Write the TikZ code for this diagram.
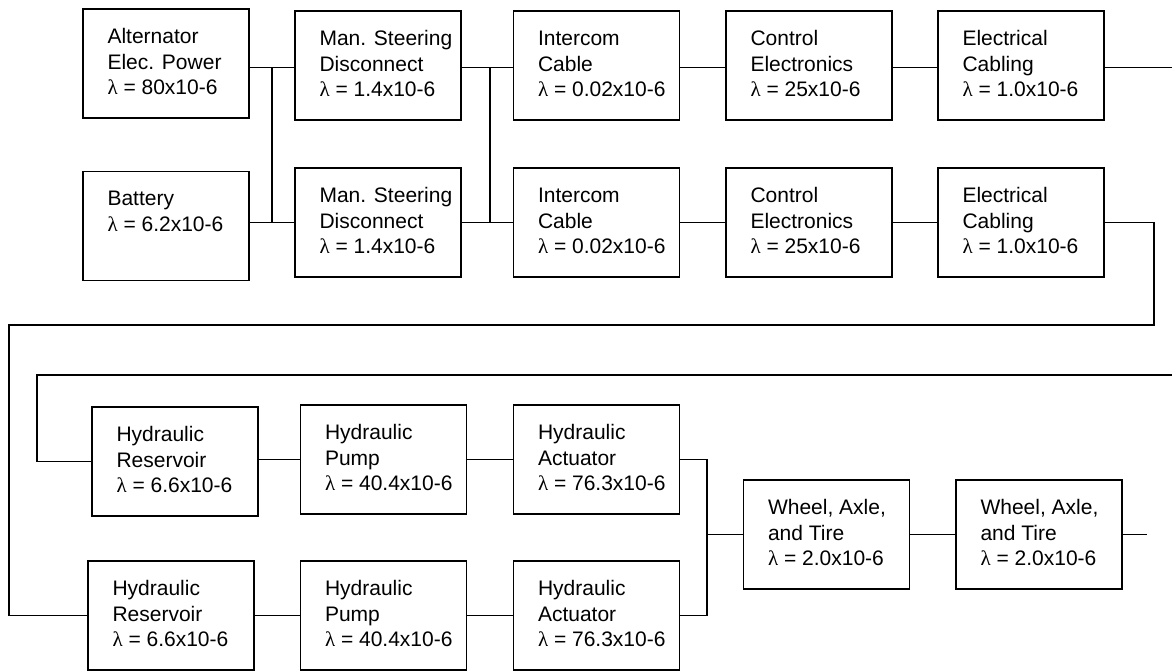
\documentclass[tikz,border=0pt]{standalone}
\usepackage{fontspec}
\setmainfont{Liberation Sans}
\newfontfamily\lamfont{Liberation Serif}
\newcommand\lam{{\lamfont λ}}
\begin{document}
\begin{tikzpicture}[x=1pt,y=-1pt,
  blk/.style={draw, line width=1.35pt, minimum width=166pt, minimum height=109pt, inner sep=0pt},
  lbl/.style={anchor=base west, inner sep=0pt, font=\fontsize{21}{25.8}\selectfont},
  wire/.style={line width=1.2pt, line cap=rect}]
\useasboundingbox (0,0) rectangle (1172,671);

% block outlines
\node[blk] (alt) at (166,63.5) {};
\node[blk] (bat) at (166,226) {};
\node[blk] (ms1) at (378,65.5) {};
\node[blk] (ms2) at (378,222.5) {};
\node[blk] (ic1) at (596.5,65.5) {};
\node[blk] (ic2) at (596.5,222.5) {};
\node[blk] (ce1) at (809,65.5) {};
\node[blk] (ce2) at (809,222.5) {};
\node[blk] (ec1) at (1021,65.5) {};
\node[blk] (ec2) at (1021,222.5) {};
\node[blk] (hr1) at (175,461.5) {};
\node[blk] (hr2) at (171,615.5) {};
\node[blk] (hp1) at (383.5,459.5) {};
\node[blk] (hp2) at (383.5,615.5) {};
\node[blk] (ha1) at (596.5,459.5) {};
\node[blk] (ha2) at (596.5,615.5) {};
\node[blk] (w1) at (826.5,534.5) {};
\node[blk] (w2) at (1039,534.5) {};

% block texts
\newcommand\blktext[2]{\node[lbl] (#1-t) at ([shift={(25pt,-35pt)}]#1.north west) {\parbox[t]{150pt}{#2}};}
\blktext{alt}{Alternator\\Elec. Power\\\lam{} = 80x10-6}
\blktext{bat}{Battery\\\lam{} = 6.2x10-6}
\blktext{ms1}{Man. Steering\\Disconnect\\\lam{} = 1.4x10-6}
\blktext{ms2}{Man. Steering\\Disconnect\\\lam{} = 1.4x10-6}
\blktext{ic1}{Intercom\\Cable\\\lam{} = 0.02x10-6}
\blktext{ic2}{Intercom\\Cable\\\lam{} = 0.02x10-6}
\blktext{ce1}{Control\\Electronics\\\lam{} = 25x10-6}
\blktext{ce2}{Control\\Electronics\\\lam{} = 25x10-6}
\blktext{ec1}{Electrical\\Cabling\\\lam{} = 1.0x10-6}
\blktext{ec2}{Electrical\\Cabling\\\lam{} = 1.0x10-6}
\blktext{hr1}{Hydraulic\\Reservoir\\\lam{} = 6.6x10-6}
\blktext{hr2}{Hydraulic\\Reservoir\\\lam{} = 6.6x10-6}
\blktext{hp1}{Hydraulic\\Pump\\\lam{} = 40.4x10-6}
\blktext{hp2}{Hydraulic\\Pump\\\lam{} = 40.4x10-6}
\blktext{ha1}{Hydraulic\\Actuator\\\lam{} = 76.3x10-6}
\blktext{ha2}{Hydraulic\\Actuator\\\lam{} = 76.3x10-6}
\blktext{w1}{Wheel, Axle,\\and Tire\\\lam{} = 2.0x10-6}
\blktext{w2}{Wheel, Axle,\\and Tire\\\lam{} = 2.0x10-6}

% junction and route points
\coordinate (j1) at (272,0);
\coordinate (j2) at (490,0);
\coordinate (j3) at (707,0);
\coordinate (out1) at (1172,0);
\coordinate (t1) at (1154,325);
\coordinate (t2) at (9,325);
\coordinate (u1) at (1172,375);
\coordinate (u2) at (37,375);
\coordinate (out2) at (1146,0);

% power sources to steering disconnects
\draw[wire] ([yshift=-4pt]alt.east) -- ([yshift=-4pt]alt.east -| ms1.west);
\draw[wire] ([yshift=-4pt]alt.east -| j1) -- (ms2.west -| j1);
\draw[wire] (ms2.west -| bat.east) -- (ms2.west);

% steering disconnects to intercom cables
\draw[wire] ([yshift=-2pt]ms1.east) -- ([yshift=-2pt]ic1.west);
\draw[wire] ([yshift=-2pt]ms1.east -| j2) -- (ms2.east -| j2);
\draw[wire] (ms2.east) -- (ic2.west);

% electrical chains
\draw[wire] ([yshift=-2pt]ic1.east) -- ([yshift=-2pt]ce1.west);
\draw[wire] ([yshift=-2pt]ce1.east) -- ([yshift=-2pt]ec1.west);
\draw[wire] ([yshift=-2pt]ec1.east) -- ([yshift=-2pt]ec1.east -| out1);
\draw[wire] (ic2.east) -- (ce2.west);
\draw[wire] (ce2.east) -- (ec2.west);

% returns into the hydraulic rows
\draw[wire] (ec2.east) -| (t1) -- (t2) |- (hr2.west);
\draw[wire] (u1) -- (u2) |- (hr1.west);

% hydraulic chains
\draw[wire] (hp1.west -| hr1.east) -- (hp1.west);
\draw[wire] (hr2.east) -- (hp2.west);
\draw[wire] (hp1.east) -- (ha1.west);
\draw[wire] (hp2.east) -- (ha2.west);
\draw[wire] (ha1.east) -| (j3 |- w1.west) |- (ha2.east);
\draw[wire] (j3 |- w1.west) -- (w1.west);

% wheel assemblies
\draw[wire] (w1.east) -- (w2.west);
\draw[wire] (w2.east) -- (w2.east -| out2);
\end{tikzpicture}
\end{document}
